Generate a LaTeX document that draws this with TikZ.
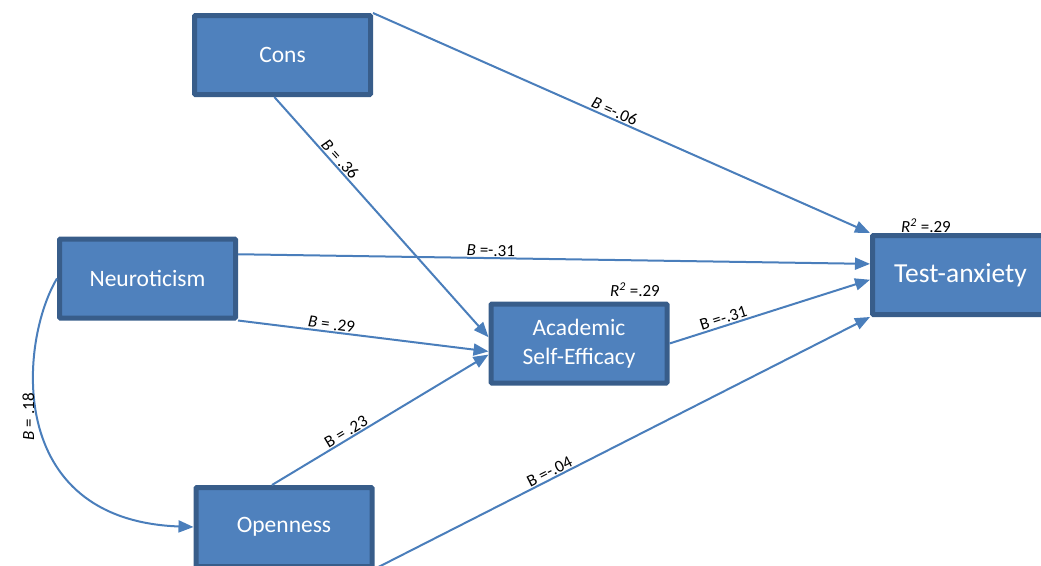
\documentclass[tikz,border=0pt]{standalone}
\usepackage{fontspec}
\setmainfont{Carlito}
\usetikzlibrary{arrows.meta}
\definecolor{boxfill}{HTML}{4F81BD}
\definecolor{boxline}{HTML}{385D8A}
\definecolor{linkcol}{HTML}{4A7EBB}
\newcommand{\coefB}[1]{\textit{B} #1}
\newcommand{\rsq}{\textit{R}\textsuperscript{\textit{2}} =.29}

\begin{document}
\begin{tikzpicture}[x=1pt,y=-1pt,
		var/.style={draw=boxline,line width=5pt,fill=boxfill,text=white,rounded corners=1pt,
			minimum width=176pt,minimum height=79pt,inner sep=0pt,align=center,
			font=\fontsize{23.5}{29}\selectfont},
		link/.style={draw=linkcol,line width=2pt,-{Triangle[length=15pt,width=12pt]}},
		coef/.style={font=\fontsize{17}{19}\selectfont,sloped,above,inner sep=1pt}]
		\useasboundingbox (0,0) rectangle (1041,565);
		
		\node[var] (cons) at (282.5,55) {Cons};
		\node[var] (neuro) at (147.5,278.5) {Neuroticism};
		\node[var] (ase) at (579,343.5) {Academic\\Self-Efficacy};
		\node[var] (open) at (284,527) {Openness};
		\node[var,font=\fontsize{27.5}{30}\selectfont] (ta) at (960.5,275) {Test-anxiety};
		
		\node[font=\fontsize{17}{19}\selectfont] (r2ta) at (926,226) {\rsq};
		\node[font=\fontsize{17}{19}\selectfont] (r2ase) at (635,290) {\rsq};
		
		\draw[link] (cons.north east) -- node[coef,pos=0.48]{\coefB{=-.06}} (ta.north west);
		\draw[link] (cons.259) -- node[coef,pos=0.28]{\coefB{= .36}} (ase.176);
		\draw[link] (neuro.15) -- node[coef,pos=0.4]{\coefB{=-.31}} (ta.173);
		\draw[link] (neuro.south east) -- node[coef,pos=0.37]{\coefB{= .29}} (ase.185);
		\draw[link] (open.106) -- node[coef,pos=0.36]{B = .23} (ase.187);
		\draw[link] (open.south east) -- node[coef,pos=0.36]{B =-.04} (ta.south west);
		\draw[link] (ase.east) -- node[coef,pos=0.28]{B =-.31} (ta.183);
		\draw[link] (neuro.west) .. controls (20,340) and (3,520) .. node[pos=0.48,rotate=90,anchor=south,inner sep=3pt,font=\fontsize{17}{19}\selectfont]{\coefB{= .18}} (open.west);
\end{tikzpicture}
\end{document}
